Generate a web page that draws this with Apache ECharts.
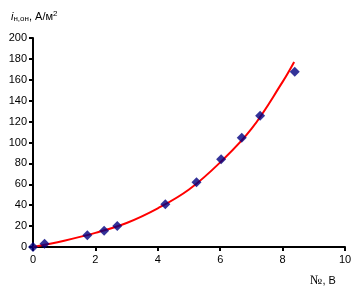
<!DOCTYPE html>
<html><head><meta charset="utf-8">
<script src="https://cdn.jsdelivr.net/npm/echarts@6/dist/echarts.min.js"></script>
<style>html,body{margin:0;padding:0;background:#fff}#c{width:358px;height:295px}</style>
</head><body><div id="c"></div>
<script>
const pointsX = [0, 0.37, 1.74, 2.28, 2.70, 4.24, 5.24, 6.03, 6.69, 7.28, 8.39];
const pointsY = [0, 3, 11.2, 15.6, 20.1, 40.9, 61.9, 83.9, 104.6, 125.6, 167.7];
const trendX = [0, 1, 2, 3, 4, 5, 6, 7, 8, 8.37];
const trendY = [0, 6, 13.5, 23, 37, 55, 81, 113, 158, 177];
const xTicks = [0, 2, 4, 6, 8, 10];
const yTicks = [0, 20, 40, 60, 80, 100, 120, 140, 160, 180, 200];

const chart = echarts.init(document.getElementById('c'));
const font = 'Liberation Sans, Arial, sans-serif';
chart.setOption({
  animation: false,
  grid: {left: 33, right: 13, top: 38, bottom: 48},
  xAxis: {
    type: 'value', min: xTicks[0], max: xTicks[xTicks.length-1], interval: 2,
    axisLine: {lineStyle: {color: '#000', width: 2}},
    axisTick: {show: true, length: 4, lineStyle: {color: '#000', width: 2}},
    axisLabel: {color: '#000', fontSize: 11, fontFamily: font, margin: 7},
    splitLine: {show: false}
  },
  yAxis: {
    type: 'value', min: yTicks[0], max: yTicks[yTicks.length-1], interval: 20,
    axisLine: {show: true, lineStyle: {color: '#000', width: 2}},
    axisTick: {show: true, length: 4, lineStyle: {color: '#000', width: 2}},
    axisLabel: {color: '#000', fontSize: 11, fontFamily: font, margin: 6},
    splitLine: {show: false}
  },
  graphic: [
    {type: 'text', left: 11, top: 10, style: {
      rich: {
        i: {fontStyle: 'italic', fontSize: 11, fontFamily: font, fill: '#000'},
        s: {fontSize: 8, fontFamily: font, fill: '#000', verticalAlign: 'bottom', padding: [5,0,0,0]},
        t: {fontSize: 11, fontFamily: font, fill: '#000'},
        p: {fontSize: 8, fontFamily: font, fill: '#000', verticalAlign: 'top', padding: [0,0,5,0]}
      },
      text: '{i|i}{s|н,он}{t|, А/м}{p|2}'
    }},
    {type: 'text', left: 310, top: 274, style: {
      rich: {
        n: {fontSize: 13, fontFamily: 'Liberation Serif, Times New Roman, serif', fill: '#000'},
        t: {fontSize: 11, fontFamily: font, fill: '#000'}
      },
      text: '{n|№}{t|, В}'
    }}
  ],
  series: [
    {type: 'line', data: trendX.map((x,i)=>[x, trendY[i]]), smooth: 0.4, showSymbol: false,
     lineStyle: {color: '#ff0000', width: 2}, z: 2},
    {type: 'scatter', data: pointsX.map((x,i)=>[x, pointsY[i]]), symbol: 'diamond', symbolSize: 10,
     itemStyle: {color: '#000080'}, z: 3}
  ]
});
</script></body></html>
